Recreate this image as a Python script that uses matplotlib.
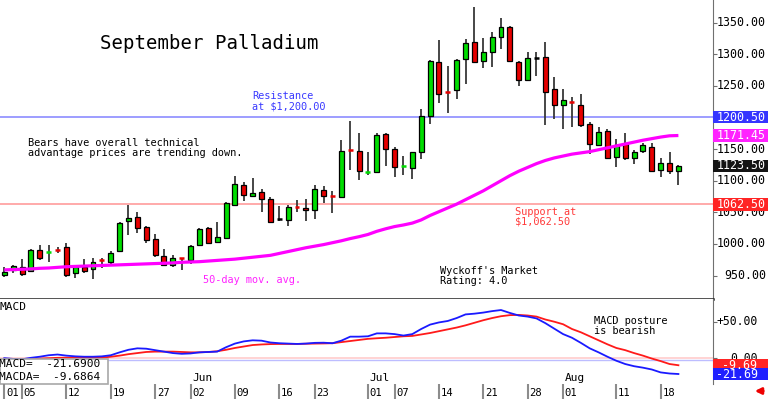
import matplotlib
matplotlib.use('Agg')
import matplotlib.pyplot as plt
from matplotlib.patches import Rectangle
from matplotlib.transforms import blended_transform_factory, offset_copy

plt.rcParams['font.family'] = ['DejaVu Sans Mono', 'DejaVu Sans']

# daily candles, 01 May .. 20 Aug (one entry per trading day)
opens = [951.4, 958.9, 964.1, 957.8, 990.5, 987.5, 990.8, 994.8, 953.6, 963.1,
         960.0, 975.2, 972.0, 988.9, 1036.8, 1042.2, 1026.4, 1007.4, 981.5, 966.8,
         977.9, 974.7, 998.4, 1025.7, 1003.6, 1009.5, 1061.6, 1093.2, 1075.8, 1082.6,
         1071.1, 1040.0, 1037.9, 1059.0, 1057.4, 1053.7, 1085.3, 1075.8, 1074.7, 1149.0,
         1147.5, 1114.0, 1114.3, 1173.9, 1150.2, 1122.8, 1120.6, 1145.9, 1202.8, 1288.2,
         1240.0, 1243.4, 1292.0, 1318.9, 1289.8, 1303.0, 1327.7, 1343.5, 1288.2, 1259.2,
         1294.0, 1295.1, 1244.5, 1219.7, 1225.5, 1219.7, 1189.2, 1156.5, 1178.6, 1138.0,
         1157.6, 1135.5, 1147.5, 1152.8, 1117.0, 1127.6, 1115.9]
highs = [963.1, 966.8, 975.8, 991.6, 998.4, 998.4, 994.8, 1002.0, 965.2, 976.3,
         977.4, 978.3, 989.4, 1035.2, 1061.6, 1050.1, 1028.4, 1015.8, 991.6, 982.6,
         978.3, 998.4, 1024.8, 1027.3, 1035.2, 1066.8, 1107.5, 1098.0, 1104.8, 1086.9,
         1073.5, 1060.0, 1061.6, 1069.5, 1070.9, 1093.2, 1091.6, 1084.2, 1164.4, 1194.9,
         1175.5, 1145.9, 1175.5, 1175.5, 1153.4, 1139.1, 1145.9, 1213.4, 1290.9, 1322.5,
         1281.4, 1292.0, 1323.6, 1375.1, 1325.2, 1334.7, 1356.8, 1344.6, 1290.0, 1303.0,
         1303.0, 1318.9, 1264.5, 1245.0, 1232.8, 1237.1, 1193.3, 1184.5, 1181.8, 1166.0,
         1175.9, 1148.6, 1160.1, 1159.2, 1135.5, 1145.9, 1124.9]
lows = [947.3, 953.6, 949.4, 957.0, 974.7, 972.0, 986.2, 948.3, 946.7, 953.6,
        944.6, 961.6, 966.8, 987.8, 1014.2, 1017.8, 1002.0, 980.0, 965.7, 964.1,
        958.9, 968.4, 996.8, 1001.0, 1002.0, 1008.0, 1060.0, 1068.4, 1074.7, 1051.0,
        1035.0, 1036.8, 1028.4, 1050.6, 1036.8, 1039.5, 1064.8, 1048.5, 1074.0, 1117.0,
        1101.0, 1109.0, 1113.0, 1123.8, 1106.4, 1109.0, 1102.7, 1134.3, 1189.7, 1222.4,
        1206.6, 1228.7, 1252.9, 1286.0, 1277.7, 1280.3, 1308.3, 1287.2, 1250.2, 1258.0,
        1266.0, 1188.1, 1197.6, 1181.3, 1185.4, 1185.4, 1142.3, 1155.4, 1135.4, 1122.2,
        1132.8, 1126.4, 1144.3, 1115.0, 1105.4, 1110.6, 1093.2]
closes = [955.7, 965.2, 952.5, 990.5, 977.4, 988.0, 990.3, 951.0, 963.1, 957.8,
          971.0, 974.5, 986.2, 1033.6, 1041.5, 1024.8, 1006.3, 982.6, 966.8, 978.3,
          977.4, 996.8, 1023.2, 1002.0, 1010.5, 1064.3, 1094.8, 1077.4, 1080.6, 1071.1,
          1035.2, 1040.0, 1058.9, 1058.0, 1053.2, 1086.9, 1075.8, 1075.3, 1147.0, 1148.5,
          1115.4, 1114.5, 1172.3, 1150.2, 1121.7, 1123.3, 1145.4, 1202.3, 1289.8, 1237.1,
          1239.0, 1290.9, 1317.3, 1287.2, 1303.0, 1326.8, 1343.5, 1289.8, 1259.2, 1293.6,
          1294.0, 1240.8, 1219.7, 1227.6, 1224.5, 1188.1, 1158.1, 1177.5, 1136.4, 1156.5,
          1136.4, 1145.0, 1156.5, 1115.9, 1127.6, 1115.9, 1123.5]

# 50-day moving average as drawn on the chart
ma50 = [959, 959.5, 960, 960.5, 961.5, 962, 963, 964, 964.5, 965,
        965.5, 966, 966.5, 967, 967.5, 968, 968.5, 969, 969.5, 970,
        971, 971.5, 972, 973, 974, 975, 976, 977.5, 979, 980.5,
        982, 985, 988, 991, 994, 996.5, 999, 1002, 1005, 1008.5,
        1011.5, 1015, 1020, 1024, 1027.5, 1030, 1033, 1038, 1045, 1051,
        1057, 1063, 1070, 1077, 1084, 1092, 1100, 1108, 1115, 1121,
        1127, 1132, 1136, 1139, 1142, 1144, 1146, 1149, 1152, 1155,
        1158, 1161, 1164, 1166.5, 1169, 1171, 1171.45]

macd = [0, -1, -1.5, 0.5, 2, 4, 5, 3.5, 2.5, 2,
        2, 2.5, 4, 8, 11.5, 13.5, 13, 11, 9, 7,
        6, 6.5, 8, 8.5, 9, 15, 20, 23, 24.5, 24,
        21.5, 20.5, 20, 19.5, 20, 21, 21.2, 20.5, 24, 29.5,
        29.5, 30, 34, 34, 33, 31, 33, 40, 46, 49,
        51, 55, 60, 61, 62.5, 64.5, 66, 62, 58.5, 57,
        54.5, 48, 40.5, 33, 28, 21, 13.5, 8, 2, -3.5,
        -8, -11, -13, -15.5, -19.5, -21, -21.69]
macda = [-1, -1.5, -1.5, -1, -0.5, 0, 0.5, 0.7, 0.7, 0.7,
         0.7, 0.7, 2, 3.5, 5.5, 7, 8.5, 9, 9, 9,
         8.5, 8, 8, 8.5, 9.5, 11.5, 14, 16, 18, 18.8,
         19.3, 19.5, 19.5, 19.5, 19.8, 20, 20.2, 20.5, 22, 23.5,
         25, 26.5, 27.3, 28, 29, 30, 30.5, 32.5, 34.5, 37,
         39.5, 42, 45, 48.5, 52, 55, 57.5, 59, 59.3, 58.5,
         57, 53, 50, 46.5, 40, 35.5, 30, 24.5, 19, 14,
         11, 7, 3.5, -0.5, -4, -8, -9.6864]

date_idx = [0, 2, 7, 12, 17, 21, 26, 31, 35, 41, 44, 49, 54, 59, 63, 69, 74]
date_lbl = ['01', '05', '12', '19', '27', '02', '09', '16', '23', '01', '07',
            '14', '21', '28', '01', '11', '18']
month_idx = [21, 41, 63]
month_lbl = ['Jun', 'Jul', 'Aug']

price_ticks = [950, 1000, 1050, 1100, 1150, 1200, 1250, 1300, 1350]
macd_ticks = [50, 0]
resistance = 1200.50
support = 1062.50

GREEN = '#00dd00'
RED = '#e60000'
BLUE = '#2222ff'
MAGENTA = '#ff22ff'

W, H = 768, 399
fig = plt.figure(figsize=(W / 100, H / 100), dpi=100)

def fy(py):
    return 1 - py / H

ax = fig.add_axes([0, fy(299.3), 713 / W, 299.3 / H])
ax2 = fig.add_axes([0, fy(384.3), 713 / W, 85.0 / H], sharex=ax)
ax3 = fig.add_axes([0, 0, 713 / W, (H - 384.3) / H], sharex=ax)

n = len(closes)
ax.set_xlim(-0.485, 79.9)
ax.set_ylim(912.5, 1385.7)
ax2.set_ylim(-35.8, 80.7)
ax3.set_ylim(0, 1)

# candles
bw = 0.56
for i in range(n):
    o, h, l, c = opens[i], highs[i], lows[i], closes[i]
    ax.vlines(i, l, h, color='#383838', lw=1.3, zorder=3)
    if abs(c - o) < 2:
        col = GREEN if c > o else (RED if c < o else 'black')
        ax.hlines((o + c) / 2, i - bw / 2, i + bw / 2, color=col, lw=1.8, zorder=4)
    else:
        fc = GREEN if c > o else RED
        ax.add_patch(Rectangle((i - bw / 2, min(o, c)), bw, abs(c - o),
                               facecolor=fc, edgecolor='black', lw=0.9, zorder=4))

ax.plot(range(n), ma50, color='#ff00ff', lw=2.3, zorder=5, solid_capstyle='butt')
ax.axhline(resistance, color='#8c8cff', lw=1.2, zorder=1)
ax.axhline(support, color='#ff9c9c', lw=1.2, zorder=1)

# macd panel
ax2.axhline(0, color='#ffcccc', lw=1.2, zorder=1)
ax2.axhline(-2.9, color='#bdbdff', lw=1.0, zorder=1)
ax2.plot(range(n), macda, color='#ff1a1a', lw=1.3, zorder=3)
ax2.plot(range(n), macd, color='#1a1aff', lw=1.3, zorder=4)

for a in (ax, ax2):
    a.spines['top'].set_visible(False)
    a.spines['left'].set_visible(False)
    a.spines['right'].set_color('#707070')
    a.set_xticks([])
    a.tick_params(axis='y', left=False, right=True, labelleft=False, labelright=False,
                  length=3, color='#707070')
ax.spines['bottom'].set_linewidth(1.8)
ax.spines['bottom'].set_color('#202020')
ax2.spines['bottom'].set_visible(False)
ax3.axis('off')
ax.set_yticks(price_ticks)
ax2.set_yticks(macd_ticks)


def units_per_px(a):
    y0, y1 = a.get_ylim()
    return (y1 - y0) / (a.get_position().height * H)


def value_box(a, val, txt, color, right_px):
    tr = blended_transform_factory(a.transAxes, a.transData)
    hh = 12.5 * units_per_px(a)
    a.add_patch(Rectangle((1.0, val - hh / 2), 55 / 713, hh, transform=tr,
                          facecolor=color, edgecolor='none', clip_on=False, zorder=6))
    a.text(right_px / 713, val, txt, transform=tr, ha='right', va='center',
           color='white', fontsize=8.4, zorder=7)


tr1 = blended_transform_factory(ax.transAxes, ax.transData)
for v in price_ticks:
    ax.text(766 / 713, v, f'{v:.2f}', transform=tr1, ha='right', va='center', fontsize=8.4)
tr2 = blended_transform_factory(ax2.transAxes, ax2.transData)
for v in macd_ticks:
    s = f'+{v:.2f}' if v > 0 else f'{v:.2f}'
    ax2.text(758 / 713, v, s, transform=tr2, ha='right', va='center', fontsize=8.3)

value_box(ax, resistance, f'{resistance:.2f}', '#3535ff', 766)
value_box(ax, ma50[-1], f'{ma50[-1]:.2f}', MAGENTA, 766)
value_box(ax, closes[-1], f'{closes[-1]:.2f}', '#141414', 766)
value_box(ax, support, f'{support:.2f}', '#ff2424', 766)
value_box(ax2, macda[-1], f'{macda[-1]:.2f}', '#ff2424', 757)
value_box(ax2, macd[-1], f'{macd[-1]:.2f}', '#2020ff', 758)


def note(a, x, y, lines, color='black', size=7.4, gap=10.3):
    for k, s in enumerate(lines):
        t = offset_copy(a.transData, fig=fig, y=-k * gap, units='dots')
        a.text(x, y, s, transform=t, ha='left', va='center', color=color, fontsize=size)


note(ax, 10.8, 1317, ['September Palladium'], size=13.7)
note(ax, 27.9, 1234, ['Resistance', 'at $1,200.00'], color='#3a3aff')
note(ax, 2.7, 1160, ['Bears have overall technical', 'advantage prices are trending down.'])
note(ax, 22.4, 943, ['50-day mov. avg.'], color=MAGENTA)
note(ax, 57.6, 1050.6, ['Support at', '$1,062.50'], color='#ff3a3a', gap=10)
note(ax, 49.1, 957.8, ["Wyckoff's Market", 'Rating: 4.0'])
note(ax2, 66.5, 51.4, ['MACD posture', 'is bearish'], gap=10)

ax2.text(0.0, 0.913, 'MACD', transform=ax2.transAxes, ha='left', va='center', fontsize=8)
ax2.add_patch(Rectangle((0, 0), 108.3 / 713, 25 / 85, transform=ax2.transAxes,
                        facecolor='white', edgecolor='#a8a8a8', lw=1.2, zorder=8, clip_on=False))
ax2.text(-1 / 713, 20.3 / 85, f'MACD=  {macd[-1]:.4f}', transform=ax2.transAxes,
         ha='left', va='center', fontsize=8, zorder=9)
ax2.text(-1 / 713, 7.0 / 85, f'MACDA=  {macda[-1]:.4f}', transform=ax2.transAxes,
         ha='left', va='center', fontsize=8, zorder=9)
for i, s in zip(month_idx, month_lbl):
    ax2.text(i + 0.2, -27.1, s, ha='left', va='center', fontsize=8)

# date row
for i, s in zip(date_idx, date_lbl):
    ax3.axvline(i, color='#8c8c8c', lw=1.5)
    ax3.text(i + 0.2, 0.42, s, ha='left', va='center', fontsize=7.6)
ax3.annotate('', xy=(752 / W, fy(391)), xytext=(766 / W, fy(391)),
             xycoords='figure fraction', textcoords='figure fraction',
             arrowprops=dict(arrowstyle='-|>', color='#ee0000', lw=2, mutation_scale=9))

fig.savefig('out.png', dpi=100)
